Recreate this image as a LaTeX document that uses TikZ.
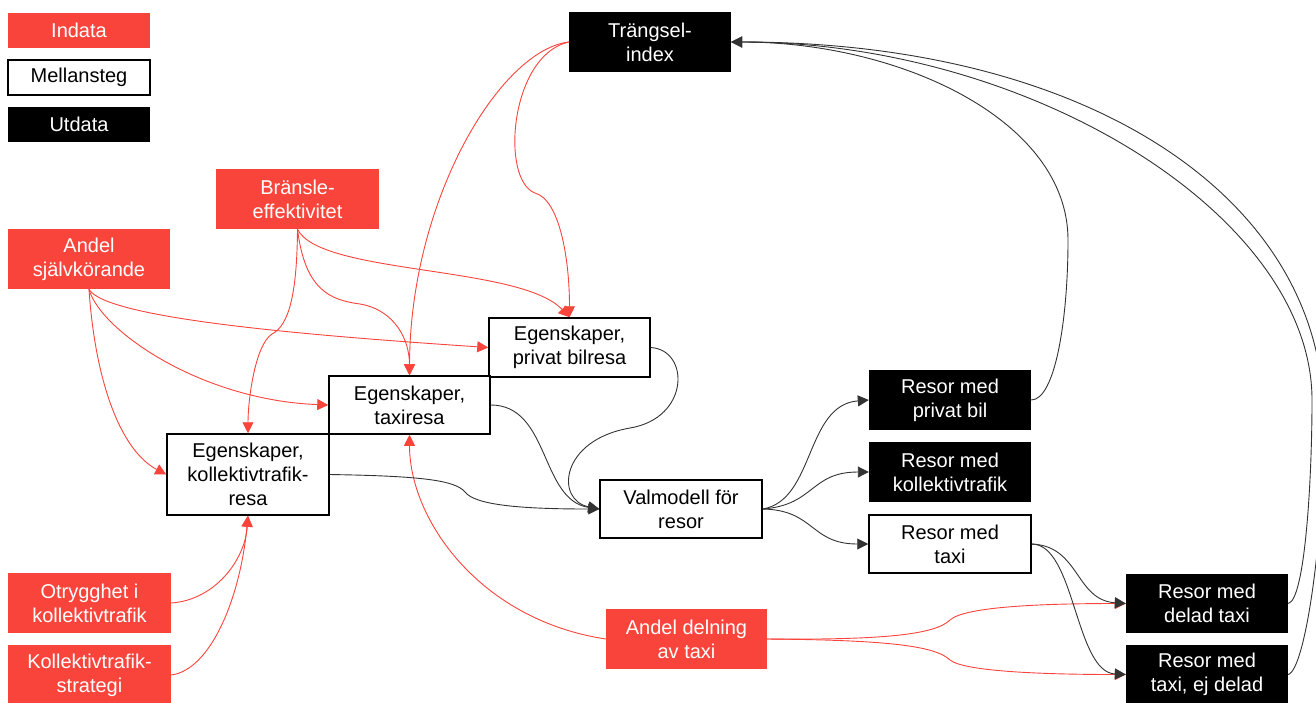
\documentclass[tikz,border=0pt]{standalone}
\usepackage{fontspec}
\setmainfont{Liberation Sans}
\usetikzlibrary{arrows.meta}
\definecolor{ired}{RGB}{249,68,60}
\begin{document}
\begin{tikzpicture}[x=1pt,y=-1pt,
  font=\fontsize{20}{24}\selectfont,
  box/.style={rectangle, minimum width=162pt, minimum height=60pt, inner sep=0pt, align=center},
  indata/.style={box, fill=ired, text=white},
  mell/.style={box, fill=white, draw=black, line width=1.5pt},
  utdata/.style={box, fill=black, text=white},
  legend/.style={minimum width=142pt, minimum height=35pt},
  rc/.style={draw=ired, line width=0.9pt, -{Triangle[length=11pt,width=11pt]}},
  bc/.style={draw=black!80, line width=0.9pt, -{Triangle[length=11pt,width=11pt]}}]
\useasboundingbox (0,0) rectangle (1316,702);

% legend
\node[indata, legend] (lind) at (79,30) {Indata};
\node[mell, legend, line width=2pt] (lmel) at (79,77.5) {Mellansteg};
\node[utdata, legend] (lutd) at (79,124.5) {Utdata};

% inputs
\node[indata, minimum width=163pt] (bra) at (297.5,199) {Bränsle-\\effektivitet};
\node[indata] (ands) at (89,259) {Andel\\självkörande};
\node[indata, minimum width=163pt] (otr) at (89.5,603) {Otrygghet i\\kollektivtrafik};
\node[indata, minimum width=163pt] (kstr) at (89.5,675) {Kollektivtrafik-\\strategi};
\node[indata, minimum width=161pt] (adel) at (686.5,639) {Andel delning\\av taxi};

% intermediate
\node[mell, minimum width=161pt, minimum height=59pt] (eprv) at (569.5,347.5) {Egenskaper,\\privat bilresa};
\node[mell, minimum width=161pt, minimum height=58pt] (etax) at (409.5,405) {Egenskaper,\\taxiresa};
\node[mell, minimum height=81pt] (ekol) at (248,474.5) {Egenskaper,\\kollektivtrafik-\\resa};
\node[mell, minimum height=58pt] (valm) at (681,509) {Valmodell för\\resor};
\node[mell, minimum height=58pt] (rtax) at (950,544) {Resor med\\taxi};

% outputs
\node[utdata] (trg) at (650,42) {Trängsel-\\index};
\node[utdata] (rbil) at (950,400) {Resor med\\privat bil};
\node[utdata] (rkol) at (950,472) {Resor med\\kollektivtrafik};
\node[utdata, minimum height=59pt] (rdel) at (1207,603.5) {Resor med\\delad taxi};
\node[utdata, minimum height=59pt] (rejd) at (1207,674.5) {Resor med\\taxi, ej delad};

% red connectors
\draw[rc] (ands.south) .. controls (105,318) and (300,335) .. (eprv.west);
\draw[rc] (ands.south) .. controls (100,330) and (200,400) .. (etax.west);
\draw[rc] (ands.south) .. controls (95,380) and (120,450) .. (ekol.west);

\draw[rc] (bra.south) .. controls (320,275) and (520,265) .. (eprv.north);
\draw[rc] (bra.south) .. controls (305,290) and (330,300) .. (360,304)
          .. controls (395,310) and (409.5,340) .. (etax.north);
\draw[rc] (bra.south) .. controls (297,290) and (290,325) .. (272,334)
          .. controls (255,345) and (248,400) .. (ekol.north);

\draw[rc] (trg.west) .. controls (500,50) and (410,200) .. (etax.north);
\draw[rc] (trg.west) .. controls (510,55) and (500,180) .. (535,193)
          .. controls (560,200) and (569.5,260) .. (eprv.north);

\draw[rc] (otr.east) .. controls (215,600) and (245,560) .. (ekol.south);
\draw[rc] (kstr.east) .. controls (210,670) and (240,600) .. (ekol.south);

\draw[rc] (adel.west) .. controls (480,620) and (409.5,520) .. (etax.south);
\draw[rc] (adel.east) .. controls (880,640) and (935,635) .. (950,620)
          .. controls (965,606) and (1050,603.5) .. (rdel.west);
\draw[rc] (adel.east) .. controls (880,640) and (935,645) .. (950,660)
          .. controls (965,672) and (1050,674.5) .. (rejd.west);

% black connectors
\draw[bc] (eprv.east) .. controls (690,350) and (690,418) .. (630,428)
          .. controls (560,440) and (555,500) .. (valm.west);
\draw[bc] (etax.east) .. controls (550,405) and (540,500) .. (valm.west);
\draw[bc] (ekol.east) .. controls (420,476) and (455,480) .. (465,492)
          .. controls (475,505) and (520,509) .. (valm.west);

\draw[bc] (valm.east) .. controls (815,500) and (805,405) .. (rbil.west);
\draw[bc] (valm.east) .. controls (815,505) and (810,472) .. (rkol.west);
\draw[bc] (valm.east) .. controls (815,510) and (810,544) .. (rtax.west);

\draw[bc] (rtax.east) .. controls (1080,546) and (1075,600) .. (rdel.west);
\draw[bc] (rtax.east) .. controls (1075,544) and (1075,672) .. (rejd.west);

\draw[bc] (rbil.east) .. controls (1055,400) and (1068,320) .. (1068,240)
          .. controls (1068,120) and (900,42) .. (trg.east);
\draw[bc] (rdel.east) .. controls (1305,600) and (1312,480) .. (1312,400)
          .. controls (1312,215) and (1030,42) .. (trg.east);
\draw[bc] (rejd.east) .. controls (1305,670) and (1324,540) .. (1324,420)
          .. controls (1324,195) and (1085,42) .. (trg.east);
\end{tikzpicture}
\end{document}
